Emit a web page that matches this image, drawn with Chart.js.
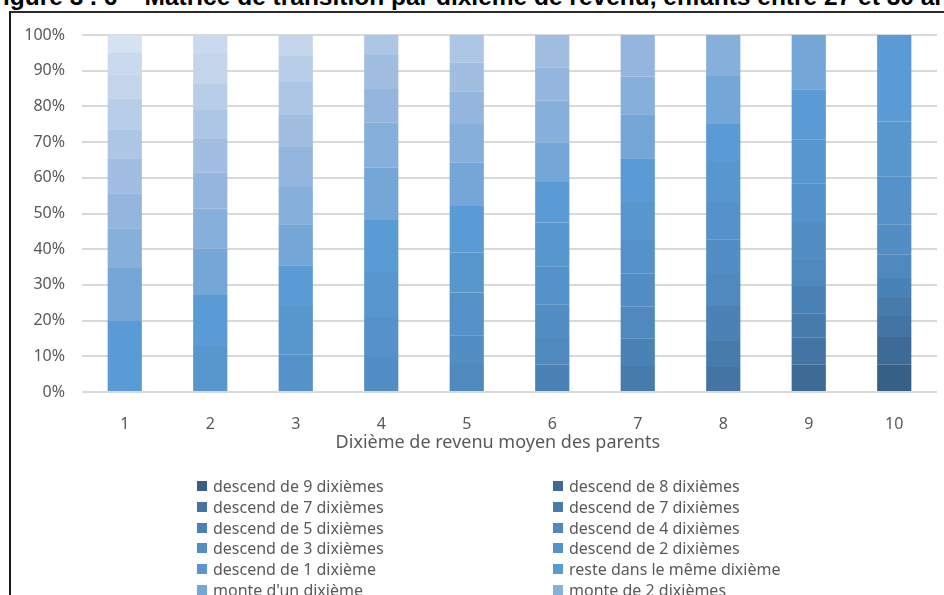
<!DOCTYPE html>
<html lang="fr">
<head>
<meta charset="utf-8">
<title>Matrice de transition par dixième de revenu</title>
<script src="https://cdn.jsdelivr.net/npm/chart.js@4"></script>
<style>
    html, body { margin: 0; padding: 0; background: #fff; }
    body { width: 944px; height: 595px; overflow: hidden; position: relative; font-family: "Noto Sans", sans-serif; }
    #figTitle {
        position: absolute; left: -12px; top: -15px; white-space: nowrap;
        font: bold 24.5px/24.5px "Liberation Sans", Arial, sans-serif; color: #000;
    }
    #frame {
        position: absolute; left: 9px; top: 11px; width: 960px; height: 620px;
        border-left: 2px solid #1a1a1a; border-top: 2px solid #2a2a2a;
        background: #fff;
    }
    #chartBox { position: absolute; left: 0; top: 0; width: 944px; height: 470px; }
    #legendContainer { position: absolute; left: 0; top: 0; width: 944px; height: 595px; }
    .legend-item { position: absolute; height: 20px; line-height: 20px; font-size: 16px; color: #595959; white-space: nowrap; }
    .legend-box { position: absolute; left: 0; top: 5px; width: 10px; height: 10px; }
    .legend-text { position: absolute; left: 16px; top: 0; }
</style>
</head>
<body>
<div id="figTitle">Figure 3 . 6 – Matrice de transition par dixième de revenu, enfants entre 27 et 30 ans</div>
<div id="frame"></div>
<div id="chartBox"><canvas id="transitionChart"></canvas></div>
<div id="legendContainer"></div>
<script>
// dixième de revenu des parents
const parentDeciles = ['1', '2', '3', '4', '5', '6', '7', '8', '9', '10'];

// part (en %) des enfants par dixième d'arrivée 1..10, pour chaque dixième des parents
const parent1 = [19.9, 14.8, 11.2, 9.8, 9.8, 8.1, 8.7, 6.7, 6.2, 4.8];
const parent2 = [12.9, 14.3, 12.9, 11.2, 10.1, 9.5, 8.1, 7.3, 8.4, 5.3];
const parent3 = [10.4, 13.7, 11.4, 11.5, 10.4, 11.2, 9.0, 9.2, 7.3, 5.9];
const parent4 = [9.8, 11.2, 12.6, 14.6, 14.6, 12.6, 9.5, 9.5, 5.6, 0];
const parent5 = [8.1, 7.8, 12.0, 11.2, 13.0, 12.1, 10.9, 9.0, 8.1, 7.8];
const parent6 = [7.6, 7.8, 9.2, 10.6, 12.3, 11.3, 11.0, 11.8, 9.2, 9.2];
const parent7 = [7.3, 7.6, 9.0, 9.2, 9.5, 10.6, 12.3, 12.3, 10.6, 11.6];
const parent8 = [7.0, 7.3, 9.8, 9.2, 9.5, 10.4, 11.5, 10.4, 13.4, 11.5];
const parent9 = [7.6, 7.6, 6.7, 7.8, 7.3, 10.6, 10.9, 12.3, 14.0, 15.2];
const parent10 = [7.6, 7.8, 5.9, 5.0, 5.6, 6.7, 8.4, 13.4, 15.4, 24.2];

// mouvements, de -9 (descend de 9) à +9 (monte de 9)
const moves = [-9, -8, -7, -6, -5, -4, -3, -2, -1, 0, 1, 2, 3, 4, 5, 6, 7, 8, 9];
const moveLabels = [
    'descend de 9 dixièmes', 'descend de 8 dixièmes', 'descend de 7 dixièmes',
    'descend de 7 dixièmes', 'descend de 5 dixièmes', 'descend de 4 dixièmes',
    'descend de 3 dixièmes', 'descend de 2 dixièmes', 'descend de 1 dixième',
    'reste dans le même dixième', 'monte d\'un dixième', 'monte de 2 dixièmes',
    'monte de 3 dixièmes', 'monte de 4 dixièmes', 'monte de 5 dixièmes',
    'monte de 6 dixièmes', 'monte de 7 dixièmes', 'monte de 8 dixièmes',
    'monte de 9 dixièmes'
];
const moveColors = [
    '#376087', '#3e6a96', '#4374a3', '#477bac', '#4b82b5', '#4f89be',
    '#528ec4', '#5592c9', '#5897ce', '#5b9bd5', '#74a6d8', '#87afdb',
    '#94b6de', '#a1bee1', '#adc6e5', '#b8cde8', '#c4d4eb', '#cbd9ee',
    '#d6e1f1'
];

document.addEventListener('DOMContentLoaded', function () {
    let rows = [parent1, parent2, parent3, parent4, parent5, parent6, parent7, parent8, parent9, parent10];
    let ctx = document.getElementById('transitionChart').getContext('2d');

    // un jeu de données par mouvement : valeur = part du dixième d'arrivée parent + mouvement
    let datasets = moves.map((m, index) => ({
        label: moveLabels[index],
        data: rows.map((row, p) => {
            let dest = p + m;
            return (dest >= 0 && dest < 10) ? row[dest] : null;
        }),
        backgroundColor: moveColors[index],
        borderWidth: 0,
        categoryPercentage: 0.4,
        barPercentage: 1.0
    }));

    let tickFont = { family: 'Noto Sans', size: 16 };

    new Chart(ctx, {
        type: 'bar',
        data: {
            labels: parentDeciles,
            datasets: datasets
        },
        options: {
            responsive: true,
            maintainAspectRatio: false,
            animation: false,
            layout: { padding: { left: 0, right: 7, top: 35, bottom: 0 } },
            plugins: {
                legend: { display: false }, // légende faite en HTML plus bas
                tooltip: { enabled: false }
            },
            scales: {
                x: {
                    stacked: true,
                    grid: { display: false },
                    border: { display: false },
                    ticks: { color: '#595959', font: tickFont, padding: 15 },
                    title: {
                        display: true,
                        // espaces en fin de texte : le titre est un peu décalé à gauche dans l'original
                        text: 'Dixième de revenu moyen des parents     ',
                        color: '#595959',
                        font: { family: 'Noto Sans', size: 18 },
                        padding: { top: 0, bottom: 16 }
                    },
                    afterFit: function (scale) { scale.height = 78; }
                },
                y: {
                    stacked: true,
                    min: 0,
                    max: 100,
                    grid: { color: '#d9d9d9', lineWidth: 2, drawTicks: false },
                    border: { display: false },
                    ticks: {
                        stepSize: 10,
                        color: '#595959',
                        font: tickFont,
                        padding: 17,
                        callback: v => v + '%'
                    },
                    afterFit: function (scale) { scale.width = 82; }
                }
            }
        }
    });

    // légende sur deux colonnes
    let legendContainer = document.getElementById('legendContainer');
    legendContainer.innerHTML = '';
    datasets.forEach((ds, index) => {
        let col = index % 2;
        let row = Math.floor(index / 2);
        let div = document.createElement('div');
        div.className = 'legend-item';
        div.style.left = (col === 0 ? 197 : 553) + 'px';
        div.style.top = (476 + row * 20.8) + 'px';
        div.innerHTML = `
            <span class="legend-box" style="background: ${ds.backgroundColor};"></span>
            <span class="legend-text">${ds.label}</span>
        `;
        legendContainer.appendChild(div);
    });
});
</script>
</body>
</html>
